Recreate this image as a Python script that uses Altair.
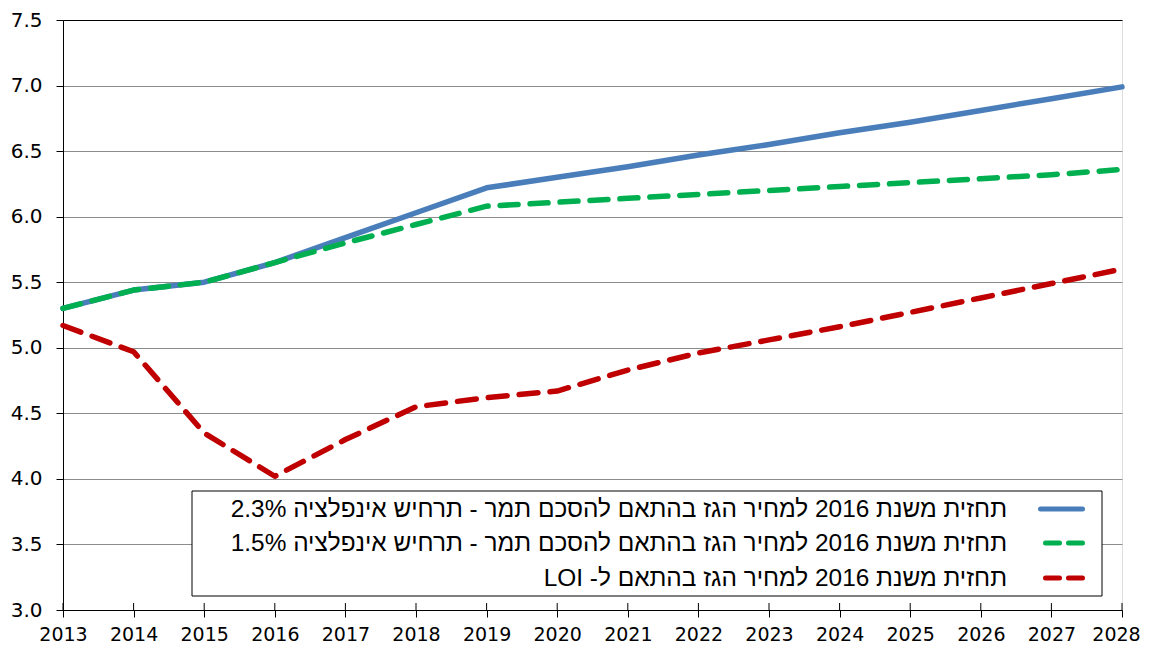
import altair as alt
import pandas as pd

years = list(range(2013, 2029))
blue_vals = [5.30, 5.44, 5.50, 5.65, 5.84, 6.03, 6.22, 6.30, 6.38, 6.47, 6.55, 6.64, 6.72, 6.81, 6.90, 6.99]
green_vals = [5.30, 5.44, 5.50, 5.65, 5.80, 5.94, 6.08, 6.11, 6.14, 6.17, 6.20, 6.23, 6.26, 6.29, 6.32, 6.36]
red_vals = [5.17, 4.97, 4.35, 4.02, 4.30, 4.55, 4.62, 4.67, 4.83, 4.96, 5.06, 5.16, 5.27, 5.38, 5.49, 5.60]

series_names = [
    "תחזית משנת 2016 למחיר הגז בהתאם להסכם תמר - תרחיש אינפלציה 2.3%",
    "תחזית משנת 2016 למחיר הגז בהתאם להסכם תמר - תרחיש אינפלציה 1.5%",
    "תחזית משנת 2016 למחיר הגז בהתאם ל- LOI",
]
series_colors = ["#4a7ebb", "#00b050", "#c00000"]
y_ticks = [3.0, 3.5, 4.0, 4.5, 5.0, 5.5, 6.0, 6.5, 7.0, 7.5]

FONT = "DejaVu Sans"
LEG_FONT = "Liberation Sans"
W, H = 1059, 590

df_blue = pd.DataFrame({"year": years, "value": blue_vals})
df_green = pd.DataFrame({"year": years, "value": green_vals})
df_red = pd.DataFrame({"year": years, "value": red_vals})
df_years = pd.DataFrame({"year": years})
df_leg = pd.DataFrame({
    "label": ["\u202b" + s + "\u202c" for s in series_names],
    "row": [0, 1, 2],
})

x_scale = alt.Scale(domain=[2013, 2028], nice=False, zero=False)
y_scale = alt.Scale(domain=[3.0, 7.5], nice=False, zero=False)

x_axis = alt.Axis(values=years, format="d", title=None, grid=False,
                  tickSize=7, tickColor="black", domainColor="black",
                  labelFontSize=19, labelColor="black", labelPadding=8,
                  labelOffset={"condition": {"test": "datum.value === 2028", "value": -6}, "value": 0},
                  labelFont=FONT, labelFlush=False, labelOverlap=False)
y_axis = alt.Axis(values=y_ticks, format=".1f", title=None,
                  grid=True,
                  gridColor={"condition": {"test": "datum.value === 7.5 || datum.value === 3", "value": "black"}, "value": "#8c8c8c"},
                  gridWidth=1,
                  tickSize=7, tickColor="black", domainColor="black",
                  labelFontSize=20, labelColor="black", labelPadding=14,
                  labelFont=FONT, labelFlush=False, labelOverlap=False)

X = alt.X("year:Q", scale=x_scale, axis=x_axis)
Y = alt.Y("value:Q", scale=y_scale, axis=y_axis)

line_kw = dict(strokeWidth=5.5, strokeCap="round", strokeJoin="round")

blue = alt.Chart(df_blue).mark_line(color=series_colors[0], **line_kw).encode(x=X, y=Y)
green = alt.Chart(df_green).mark_line(color=series_colors[1], strokeDash=[18, 12], **line_kw).encode(x=X, y=Y)
red = alt.Chart(df_red).mark_line(color=series_colors[2], strokeDash=[19, 12], **line_kw).encode(x=X, y=Y)

inner_ticks = alt.Chart(df_years).mark_rule(color="black", strokeWidth=1).encode(
    x=X, y=alt.value(H - 7), y2=alt.value(H),
)

legend_box = alt.Chart(pd.DataFrame({"a": [0]})).mark_rect(
    fill="white", stroke="black", strokeWidth=1
).encode(x=alt.value(129), x2=alt.value(1039), y=alt.value(471), y2=alt.value(576))

row_y = [490, 524, 559]
dashes = [None, [14, 9], [14, 9]]
legend_layers = []
for i in range(3):
    sub = df_leg[df_leg.row == i]
    legend_layers.append(
        alt.Chart(sub).mark_text(
            align="right", baseline="middle", font=LEG_FONT, fontSize=24.4, color="black"
        ).encode(x=alt.value(944), y=alt.value(row_y[i]), text="label:N")
    )
    kw = dict(color=series_colors[i], strokeWidth=5, strokeCap="round")
    if dashes[i]:
        kw["strokeDash"] = dashes[i]
    legend_layers.append(
        alt.Chart(sub).mark_rule(**kw).encode(
            x=alt.value(977.5 if dashes[i] is None else 982.5),
            x2=alt.value(1019.5),
            y=alt.value(row_y[i] - 1),
        )
    )

chart = alt.layer(
    blue, green, red, inner_ticks, legend_box, *legend_layers
).properties(
    width=W, height=H,
    autosize=alt.AutoSizeParams(type="none"),
    padding={"left": 55, "top": 12, "right": 19, "bottom": 34},
).configure_view(stroke="black", strokeWidth=1.5).configure(background="white")

chart.save("out.html", embed_options={"renderer": "svg", "actions": False})
